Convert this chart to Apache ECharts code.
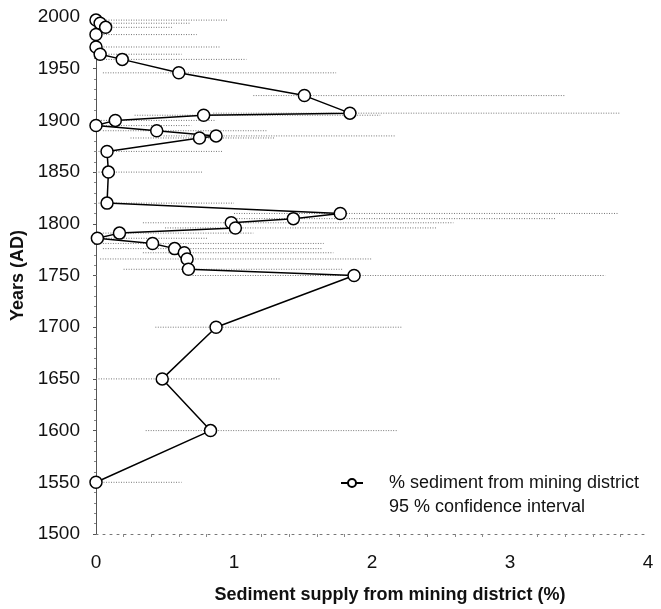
<!DOCTYPE html>
<html>
<head>
<meta charset="utf-8">
<script src="https://cdn.jsdelivr.net/npm/echarts@6/dist/echarts.min.js"></script>
<style>
  html, body { margin: 0; padding: 0; background: #fff; }
  #chart { width: 661px; height: 609px; }
</style>
</head>
<body>
<div id="chart"></div>
<script>
// Sample years (AD), youngest first
const years = [1997, 1994, 1990, 1983, 1971, 1964, 1959, 1946, 1924, 1907, 1905, 1900, 1895, 1890, 1885, 1883, 1870, 1850, 1820, 1810, 1805, 1801, 1796, 1791, 1786, 1781, 1776, 1772, 1766, 1756, 1750, 1700, 1650, 1600, 1550];
// % sediment from mining district
const sedimentPct = [0, 0.03, 0.07, 0, 0, 0.03, 0.19, 0.60, 1.51, 1.84, 0.78, 0.14, 0, 0.44, 0.87, 0.75, 0.08, 0.09, 0.08, 1.77, 1.43, 0.98, 1.01, 0.17, 0.01, 0.41, 0.57, 0.64, 0.66, 0.67, 1.87, 0.87, 0.48, 0.83, 0];
// 95 % confidence interval bounds
const ciLow  = [0, 0, 0, 0, 0, 0, 0, 0.05, 1.14, 0.85, 0.28, 0, 0, 0.05, 0.49, 0.25, 0, 0, 0, 1.00, 1.00, 0.34, 0.50, 0.05, 0, 0.05, 0.05, 0.34, 0.03, 0.20, 0.70, 0.43, 0, 0.36, 0];
const ciHigh = [0.95, 0.68, 0.55, 0.73, 0.90, 0.62, 1.09, 1.74, 3.40, 3.80, 2.06, 0.87, 0.69, 1.24, 2.17, 1.30, 0.92, 0.77, 1.00, 3.78, 3.33, 2.59, 2.47, 1.14, 0.81, 1.65, 1.64, 1.72, 2.00, 1.79, 3.69, 2.22, 1.33, 2.19, 0.62];

const xTicks = [0, 1, 2, 3, 4];
const yearTicks = [1500, 1550, 1600, 1650, 1700, 1750, 1800, 1850, 1900, 1950, 2000];

const seriesName = '% sediment from mining district';
const ciName = '95 % confidence interval';
const font = 'Liberation Sans, Arial, sans-serif';

const chart = echarts.init(document.getElementById('chart'), null, { renderer: 'canvas' });

const pointData = years.map((y, i) => [sedimentPct[i], y]);
const ciData = years.map((y, i) => [ciLow[i], ciHigh[i], y]);

chart.setOption({
  animation: false,
  backgroundColor: '#fff',
  grid: { left: 96, right: 13, top: 17, bottom: 71, containLabel: false },
  legend: {
    orient: 'vertical',
    left: 335,
    top: 469,
    itemWidth: 22,
    itemHeight: 10,
    itemGap: 6,
    textStyle: { fontFamily: font, fontSize: 18, color: '#111', padding: [0, 0, 0, 21] },
    data: [
      { name: seriesName },
      { name: ciName, icon: 'rect', itemStyle: { opacity: 0 } }
    ]
  },
  xAxis: {
    type: 'value',
    min: xTicks[0],
    max: xTicks[xTicks.length - 1],
    interval: 1,
    name: 'Sediment supply from mining district (%)',
    nameLocation: 'middle',
    nameGap: 52,
    nameTextStyle: { fontFamily: font, fontSize: 18, fontWeight: 'bold', color: '#111', padding: [0, 0, 0, 36] },
    axisLine: { show: true, onZero: false, lineStyle: { color: '#777', width: 1, type: [2, 5] } },
    axisTick: { show: false },
    minorTick: { show: true, splitNumber: 5, length: 3, lineStyle: { color: '#888' } },
    splitLine: { show: false },
    axisLabel: { fontFamily: font, fontSize: 19, color: '#111', margin: 19 }
  },
  yAxis: {
    type: 'value',
    min: yearTicks[0],
    max: yearTicks[yearTicks.length - 1],
    interval: 50,
    name: 'Years (AD)',
    nameLocation: 'middle',
    nameGap: 68,
    nameRotate: 90,
    nameTextStyle: { fontFamily: font, fontSize: 18, fontWeight: 'bold', color: '#111' },
    axisLine: { show: true, onZero: false, lineStyle: { color: '#555', width: 1 } },
    axisTick: { show: true, inside: false, length: 3, lineStyle: { color: '#555' } },
    minorTick: { show: true, splitNumber: 5, length: 2, lineStyle: { color: '#888' } },
    splitLine: { show: false },
    axisLabel: {
      fontFamily: font, fontSize: 19, color: '#111', margin: 16,
      formatter: function (v) { return String(v); }
    }
  },
  series: [
    {
      name: ciName,
      type: 'custom',
      color: '#888',
      z: 1,
      data: ciData,
      encode: { x: [0, 1], y: 2 },
      renderItem: function (params, api) {
        const p0 = api.coord([api.value(0), api.value(2)]);
        const p1 = api.coord([api.value(1), api.value(2)]);
        return {
          type: 'line',
          shape: { x1: p0[0], y1: p0[1], x2: p1[0], y2: p1[1] },
          style: { stroke: '#777', lineWidth: 1, lineDash: [1, 1.5] }
        };
      }
    },
    {
      name: seriesName,
      type: 'line',
      z: 3,
      data: pointData,
      symbol: 'circle',
      symbolSize: 12,
      showAllSymbol: true,
      lineStyle: { color: '#000', width: 1.5 },
      itemStyle: { color: '#fff', borderColor: '#000', borderWidth: 1.5 }
    }
  ]
});
</script>
</body>
</html>
